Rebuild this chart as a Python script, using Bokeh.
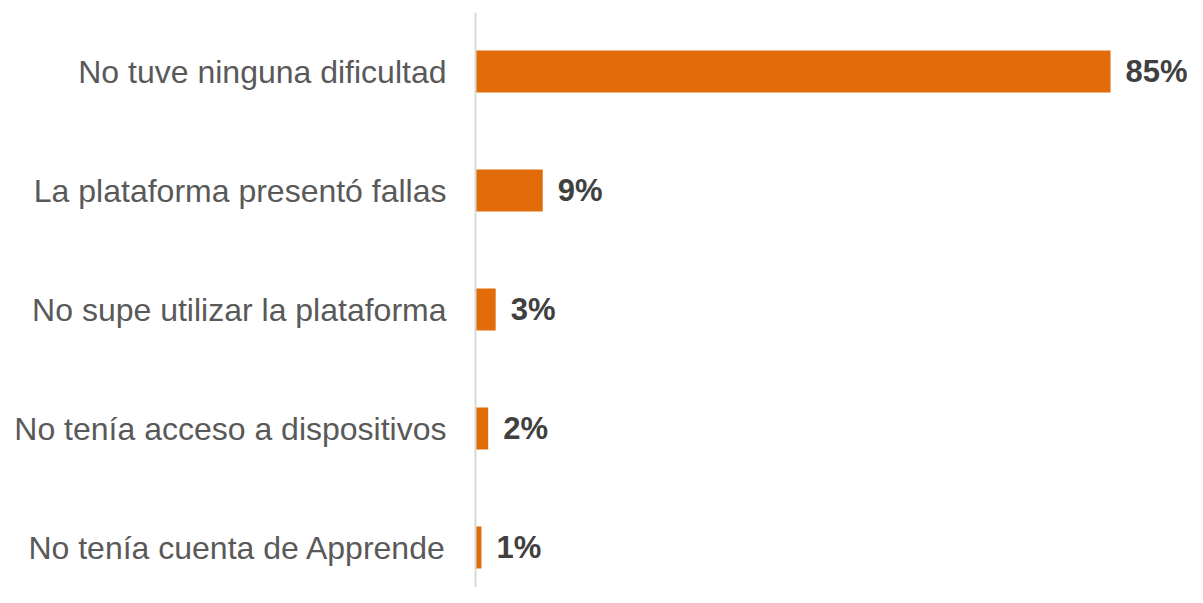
from bokeh.plotting import figure
from bokeh.models import ColumnDataSource, Range1d, FixedTicker
from bokeh.core.properties import value
from bokeh.embed import file_html
from bokeh.resources import INLINE

categories = [
    "No tuve ninguna dificultad",
    "La plataforma presentó fallas",
    "No supe utilizar la plataforma",
    "No tenía acceso a dispositivos",
    "No tenía cuenta de Apprende",
]
values = [85.0, 9.0, 2.7, 1.7, 0.8]
labels = [f"{round(v)}%" for v in values]

n = len(categories)
ypos = [n - 1 - i for i in range(n)]

src = ColumnDataSource(dict(y=ypos, v=values, lab=labels, cat=categories))

p = figure(width=1187, height=587, output_backend="svg", toolbar_location=None,
           x_range=Range1d(0, 95.3), y_range=Range1d(-0.336, 4.496),
           min_border_left=475, min_border_right=0, min_border_top=12, min_border_bottom=0)
p.outline_line_color = None
p.grid.visible = False
p.xaxis.visible = False
p.background_fill_color = "white"
p.border_fill_color = "white"

p.hbar(y="y", left=0, right="v", height=0.353, source=src,
       fill_color="#E36C0A", line_color=None)

p.text(x="v", y="y", text="lab", source=src, x_offset=15,
       text_baseline="middle", text_align="left",
       text_font=value("Liberation Sans"), text_font_style="bold",
       text_font_size="31px", text_color="#404040")

ya = p.yaxis[0]
ya.ticker = FixedTicker(ticks=ypos)
ya.major_label_overrides = {y: c for y, c in zip(ypos, categories)}
ya.major_label_text_font = "Liberation Sans"
ya.major_label_text_font_size = "32px"
ya.major_label_text_color = "#595959"
ya.major_label_standoff = 29
ya.major_tick_line_color = None
ya.minor_tick_line_color = None
ya.major_tick_out = 0
ya.axis_line_color = "#d9d9d9"
ya.axis_line_width = 2

open("out.html", "w").write(file_html(p, INLINE))
